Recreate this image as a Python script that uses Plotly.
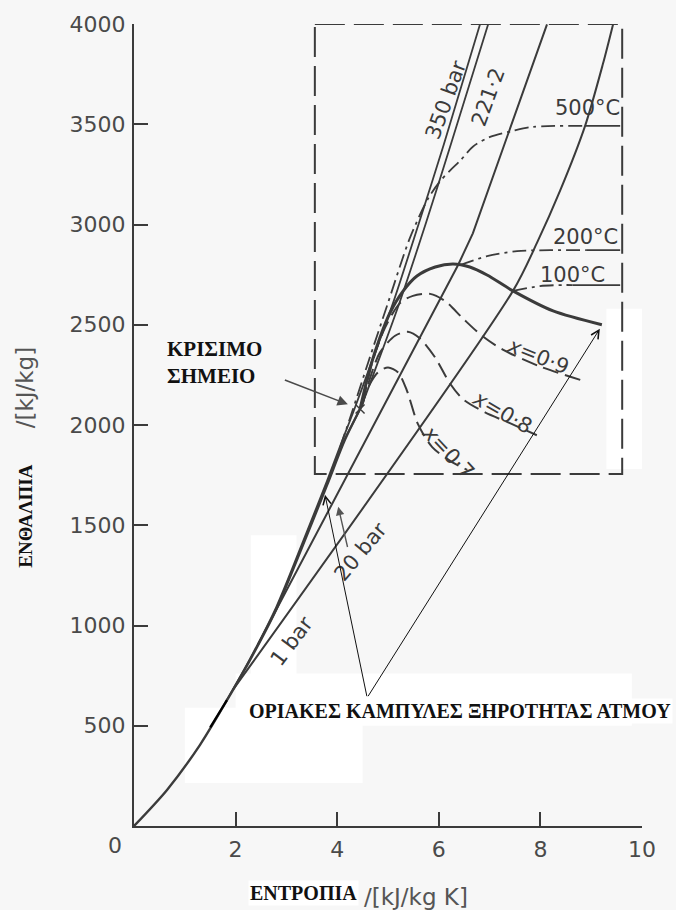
import plotly.graph_objects as go

# ---- h–s (Mollier) diagram for steam: values in kJ/kg K and kJ/kg ----

# saturated liquid line, origin to the critical point
liquid_s = [0.0, 0.65, 1.30, 1.79, 2.28, 2.80, 3.30, 3.80, 4.15, 4.45]
liquid_h = [0, 180, 405, 610, 826, 1080, 1385, 1700, 1925, 2080]

# saturated vapour line, critical point to the low-pressure end
vapour_s = [4.45, 4.65, 4.84, 5.04, 5.30, 5.57, 5.93, 6.28, 6.61, 6.95, 7.46, 8.25, 9.21]
vapour_h = [2080, 2287, 2435, 2560, 2669, 2743, 2788, 2803, 2788, 2748, 2669, 2569, 2500]

# critical point
crit_s = [4.45]
crit_h = [2080]

# isobars
p350_s = [1.79, 2.28, 2.80, 3.30, 3.80, 4.11, 4.31, 4.70, 5.10, 5.60, 6.10, 6.81]
p350_h = [612, 832, 1092, 1402, 1722, 1930, 2060, 2330, 2609, 3000, 3400, 3998]
p221_s = [3.30, 3.80, 4.15, 4.45, 4.84, 5.24, 5.75, 6.25, 6.97]
p221_h = [1392, 1708, 1930, 2080, 2340, 2620, 3010, 3410, 3998]
p20_s = [2.44, 6.38, 6.67, 7.10, 7.62, 8.13]
p20_h = [905, 2798, 2956, 3260, 3630, 3998]
p1_s = [1.95, 7.46, 7.93, 8.39, 8.88, 9.23, 9.43]
p1_h = [680, 2669, 2907, 3170, 3492, 3800, 3998]

# dryness-fraction lines
q09_s = [4.51, 4.69, 4.94, 5.24, 5.49, 5.83, 6.12, 6.48, 6.85, 7.26, 7.99, 8.82]
q09_h = [2113, 2312, 2485, 2609, 2644, 2654, 2619, 2530, 2445, 2376, 2292, 2222]
q08_s = [4.49, 4.65, 4.84, 5.14, 5.39, 5.63, 5.93, 6.22, 6.48, 6.91, 7.40, 7.93]
q08_h = [2093, 2237, 2361, 2445, 2465, 2431, 2336, 2207, 2128, 2063, 2009, 1949]
q07_s = [4.47, 4.61, 4.80, 5.00, 5.20, 5.37, 5.59, 5.87, 6.26, 6.56]
q07_h = [2088, 2188, 2262, 2287, 2262, 2173, 2004, 1890, 1815, 1776]

# isotherms (chain-dotted part, then the solid run to the frame)
t500_s = [4.06, 4.29, 4.61, 5.00, 5.43, 5.79, 6.02, 6.22, 6.42, 6.67, 7.01, 7.46, 7.85, 8.88]
t500_h = [1890, 2063, 2312, 2609, 2932, 3130, 3214, 3269, 3318, 3388, 3437, 3467, 3487, 3492]
t500_end_s = [8.88, 9.57]
t500_end_h = [3492, 3492]
t200_s = [6.42, 6.95, 7.54, 8.19, 8.90]
t200_h = [2798, 2842, 2867, 2872, 2872]
t200_end_s = [8.90, 9.57]
t200_end_h = [2872, 2872]
t100_s = [7.46, 7.99, 8.44, 8.63]
t100_h = [2669, 2693, 2698, 2698]
t100_end_s = [8.63, 9.57]
t100_end_h = [2698, 2698]

# enlarged-region frame
frame_s = [3.56, 9.61]
frame_h = [1755, 4000]

# retouched piece of the liquid line
retouch_s = [1.50, 1.83]
retouch_h = [492, 628]

# axis ticks
x_ticks = [2, 4, 6, 8, 10]
y_ticks = [500, 1000, 1500, 2000, 2500, 3000, 3500, 4000]

INK = "#3b3b3b"
BLACK = "#111111"
SHEET = "#f7f7f7"
LABEL_FONT = dict(family="DejaVu Sans", size=21, color="#3b3b3b")

fig = go.Figure()


def curve(s, h, width=2.0, dash="solid", color=INK, shape="spline"):
    fig.add_trace(go.Scatter(
        x=s, y=h, mode="lines", cliponaxis=False, hoverinfo="skip",
        line=dict(color=color, width=width, dash=dash, shape=shape, smoothing=0.8),
    ))


# isobars
curve(p350_s, p350_h, 1.8)
curve(p221_s, p221_h, 1.8)
curve(p20_s, p20_h, 2.0, shape="linear")
curve(p1_s, p1_h, 2.0, shape="spline")

# saturation dome
curve(liquid_s, liquid_h, 2.4)
curve(vapour_s, vapour_h, 3.0)
curve(retouch_s, retouch_h, 2.2, color="#000000", shape="linear")

# dryness fraction
qdash = "16px,7px"
curve(q09_s, q09_h, 2.0, qdash)
curve(q08_s, q08_h, 2.0, qdash)
curve(q07_s, q07_h, 2.0, qdash)

# isotherms
ddash = "14px,5px,3px,5px"
curve(t500_s, t500_h, 1.8, ddash)
curve(t500_end_s, t500_end_h, 1.8, shape="linear")
curve(t200_s, t200_h, 1.8, ddash)
curve(t200_end_s, t200_end_h, 1.8, shape="linear")
curve(t100_s, t100_h, 1.8, ddash)
curve(t100_end_s, t100_end_h, 1.8, shape="linear")

# dashed frame around the enlarged region, drawn as a closed trace
curve([frame_s[0], frame_s[1], frame_s[1], frame_s[0], frame_s[0]],
      [frame_h[1], frame_h[1], frame_h[0], frame_h[0], frame_h[1]],
      2.0, "30px,9px", shape="linear")

# critical point cross
fig.add_trace(go.Scatter(
    x=crit_s, y=crit_h, mode="markers", cliponaxis=False, hoverinfo="skip",
    marker=dict(symbol="x-thin", size=9, line=dict(color=INK, width=1.4)),
))

# light erased patches of the sheet (under everything else)
for x0, x1, y0, y1 in [(1.0, 4.5, 215, 590), (2.0, 9.8, 500, 760),
                       (2.3, 3.2, 620, 1450), (9.3, 10.6, 1780, 2580)]:
    fig.add_shape(type="rect", xref="x", yref="y", x0=x0, x1=x1, y0=y0, y1=y1,
                  line=dict(width=0), fillcolor="#ffffff", layer="below")

ann = []


def label(text, s, h, angle=0, font=LABEL_FONT, **kw):
    ann.append(dict(text=text, x=s, y=h, xref="x", yref="y", showarrow=False,
                    textangle=angle, font=font, **kw))


label("350 bar", 6.14, 3621, -70)
label("221·2", 6.97, 3636, -70)
label("500°C", 8.92, 3581)
label("200°C", 8.88, 2937)
label("100°C", 8.64, 2748)
label("<i>x</i>=0·9", 7.95, 2346, 22)
label("<i>x</i>=0·8", 7.24, 2063, 30)
label("<i>x</i>=0·7", 6.18, 1865, 47)
label("20 bar", 4.45, 1369, -50)
label("1 bar", 3.11, 923, -53)

label("<b>ΚΡΙΣΙΜΟ<br>ΣΗΜΕΙΟ</b>", 0.61, 2311,
      font=dict(family="Liberation Serif", size=21, color=BLACK),
      xanchor="left", align="left")
label("<b>ΟΡΙΑΚΕΣ ΚΑΜΠΥΛΕΣ ΞΗΡΟΤΗΤΑΣ ΑΤΜΟΥ</b>", 2.22, 575,
      font=dict(family="Liberation Serif", size=20, color=BLACK),
      xanchor="left", bgcolor="#ffffff")


def arrow(tail, tip, color, width, head, size):
    ann.append(dict(x=tip[0], y=tip[1], ax=tail[0], ay=tail[1], xref="x", yref="y",
                    axref="x", ayref="y", text="", showarrow=True, arrowcolor=color,
                    arrowwidth=width, arrowhead=head, arrowsize=size, standoff=0))


arrow((2.94, 2227), (4.21, 2103), "#4a4a4a", 1.6, 2, 1.3)
arrow((4.21, 1384), (4.02, 1592), "#555555", 1.4, 2, 1.2)
arrow((4.59, 640), (3.76, 1652), BLACK, 1.0, 5, 1.6)
arrow((4.59, 640), (9.17, 2480), BLACK, 1.0, 5, 1.6)


def paper_text(text, x, y, font, angle=0, **kw):
    ann.append(dict(text=text, x=x, y=y, xref="paper", yref="paper", showarrow=False,
                    xanchor="center", yanchor="middle", textangle=angle, font=font, **kw))


# shared origin label and axis titles
paper_text("0", -0.037, -0.024, dict(family="DejaVu Sans", size=22, color="#4a4a4a"))
paper_text("<b>ΕΝΘΑΛΠΙΑ</b>", -0.2126, 0.387,
           dict(family="Liberation Serif", size=19, color=BLACK), -90)
paper_text("/[kJ/kg]", -0.2146, 0.547,
           dict(family="DejaVu Sans", size=23, color="#555555"), -90)
paper_text("<b>ΕΝΤΡΟΠΙΑ</b>", 0.333, -0.083,
           dict(family="Liberation Serif", size=20, color=BLACK), bgcolor="#ffffff")
paper_text("/[kJ/kg K]", 0.556, -0.088,
           dict(family="DejaVu Sans", size=23, color="#555555"))

axis_common = dict(showgrid=False, zeroline=False, showline=True, linecolor=INK, linewidth=2,
                   ticks="inside", ticklen=14, tickwidth=2, tickcolor=INK,
                   tickfont=dict(family="DejaVu Sans", size=22, color="#4a4a4a"))

fig.update_layout(
    width=676, height=910,
    margin=dict(l=134, r=34, t=20, b=84),
    paper_bgcolor=SHEET, plot_bgcolor=SHEET,
    showlegend=False, hovermode=False,
    xaxis=dict(range=[0, 10], tickvals=x_ticks, ticktext=[str(v) for v in x_ticks],
               ticklabelstandoff=3, **axis_common),
    yaxis=dict(range=[0, 4000], tickvals=y_ticks, ticktext=[str(v) for v in y_ticks],
               ticklabelstandoff=2, **axis_common),
    annotations=ann,
)

fig.write_html("out.html")
